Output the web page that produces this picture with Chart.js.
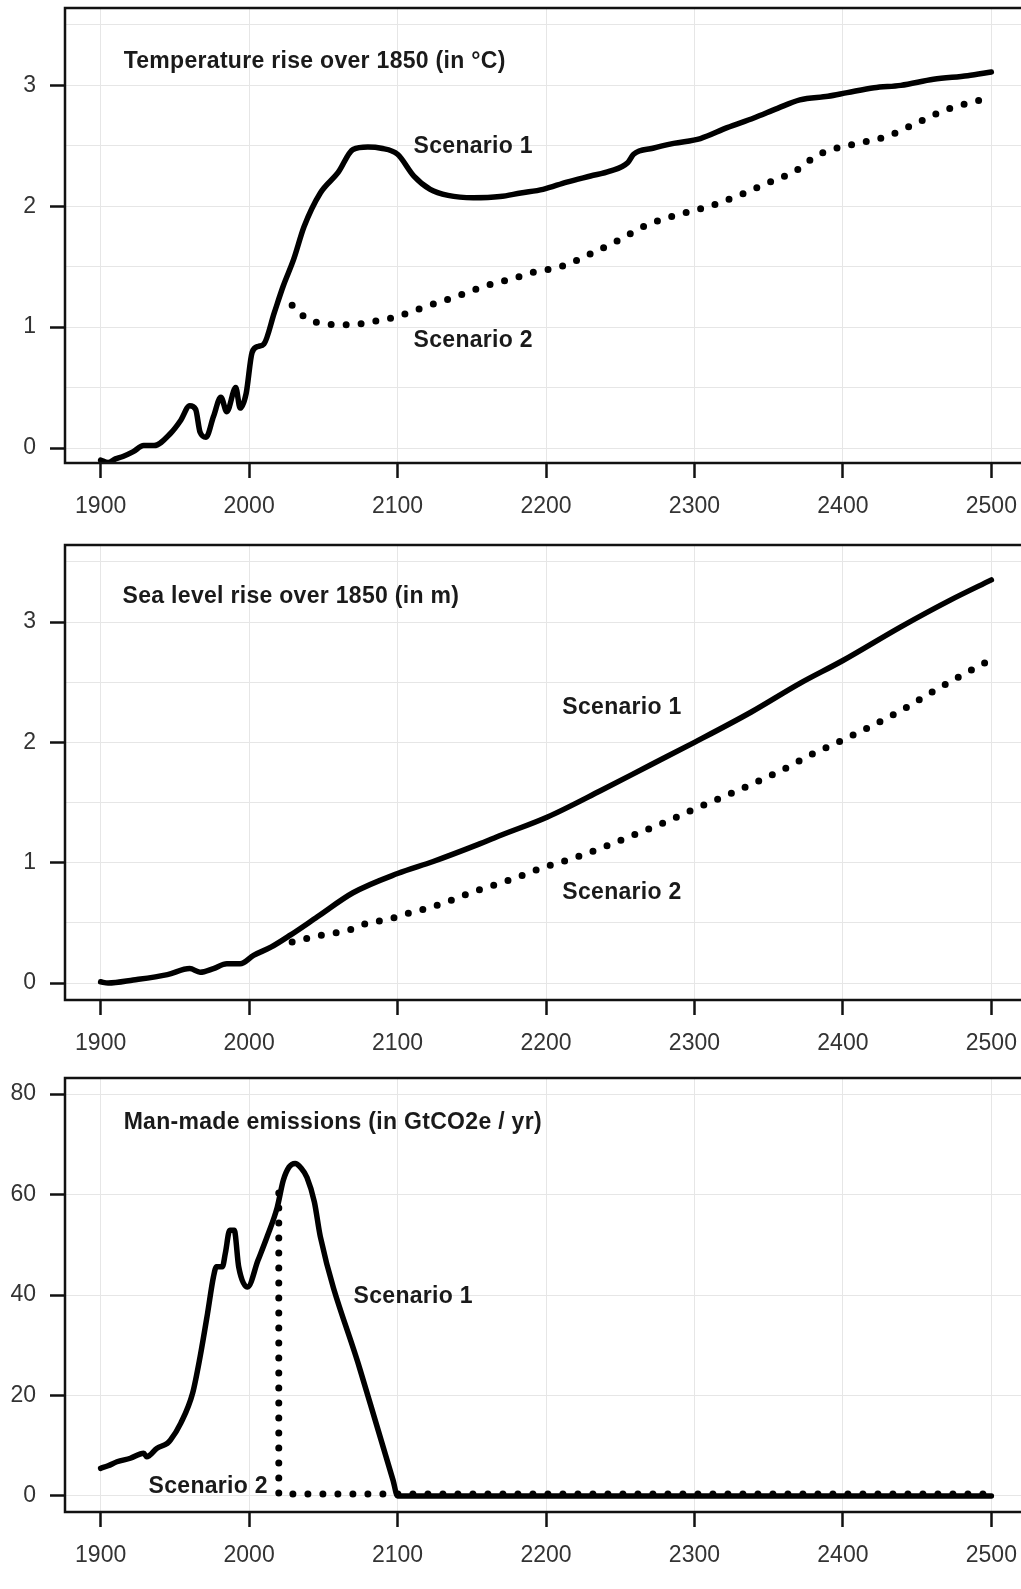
<!DOCTYPE html>
<html>
<head>
<meta charset="utf-8">
<title>Scenarios</title>
<script src="https://cdn.jsdelivr.net/npm/chart.js@4.4.0/dist/chart.umd.min.js"></script>
<style>
  html, body { margin: 0; padding: 0; background: #fff; overflow: hidden; width: 1021px; height: 1589px; }
  canvas { position: absolute; left: 0; }
</style>
</head>
<body>
<canvas id="tempChart" width="1040" height="530" style="top:0px"></canvas>
<canvas id="seaChart" width="1040" height="530" style="top:537px"></canvas>
<canvas id="emisChart" width="1040" height="509" style="top:1070px"></canvas>
<script>
// x axis shared by all three panels
const yearTicks = [1900, 2000, 2100, 2200, 2300, 2400, 2500];

// temperature rise over 1850 (°C)
const tempS1Years = [1900, 1905, 1910, 1915, 1922, 1929, 1936, 1947, 1954, 1960, 1964, 1967, 1971, 1976, 1981, 1985, 1991, 1994, 1998,
  2002, 2006, 2010, 2017, 2023, 2030, 2037, 2048, 2060, 2070, 2080, 2089, 2100, 2111, 2122, 2134, 2151, 2169, 2183, 2198,
  2214, 2230, 2243, 2255, 2259, 2272, 2286, 2304, 2322, 2340, 2356, 2371, 2390, 2403, 2421, 2439, 2461, 2484, 2500];
const tempS1 = [-0.10, -0.12, -0.09, -0.07, -0.03, 0.02, 0.02, 0.12, 0.23, 0.35, 0.32, 0.13, 0.09, 0.26, 0.42, 0.30, 0.50, 0.33, 0.45,
  0.79, 0.84, 0.86, 1.12, 1.34, 1.56, 1.83, 2.11, 2.28, 2.47, 2.49, 2.48, 2.43, 2.25, 2.14, 2.09, 2.07, 2.08, 2.11, 2.14,
  2.20, 2.25, 2.29, 2.36, 2.43, 2.48, 2.52, 2.56, 2.65, 2.73, 2.81, 2.88, 2.91, 2.94, 2.98, 3.00, 3.05, 3.08, 3.11];
const tempS2Years = [2029, 2039, 2050, 2060, 2070, 2080, 2090, 2100, 2119, 2139, 2159, 2180, 2190, 2210, 2229, 2249, 2269, 2289,
  2310, 2330, 2349, 2369, 2380, 2390, 2410, 2430, 2450, 2470, 2490, 2500];
const tempS2 = [1.18, 1.07, 1.03, 1.02, 1.02, 1.04, 1.06, 1.09, 1.17, 1.25, 1.34, 1.41, 1.45, 1.50, 1.60, 1.72, 1.85, 1.93,
  2.00, 2.09, 2.19, 2.30, 2.40, 2.46, 2.52, 2.58, 2.69, 2.80, 2.87, 2.90];
const tempGrid = [0, 0.5, 1, 1.5, 2, 2.5, 3, 3.5];
const tempLabels = [0, 1, 2, 3];

// sea level rise over 1850 (m)
const seaS1Years = [1900, 1905, 1922, 1945, 1960, 1967, 1976, 1985, 1994, 2003, 2015, 2028, 2046, 2070, 2100, 2124, 2154, 2170,
  2201, 2237, 2270, 2300, 2338, 2371, 2400, 2439, 2472, 2500];
const seaS1 = [0.01, 0.00, 0.025, 0.07, 0.12, 0.09, 0.12, 0.16, 0.16, 0.23, 0.30, 0.40, 0.55, 0.75, 0.91, 1.01, 1.15, 1.23,
  1.38, 1.60, 1.81, 2.00, 2.25, 2.49, 2.68, 2.96, 3.18, 3.35];
const seaS2Years = [2029, 2039, 2050, 2060, 2070, 2080, 2090, 2100, 2110, 2120, 2130, 2139, 2149, 2159, 2169, 2179, 2198, 2219,
  2239, 2259, 2279, 2299, 2320, 2340, 2359, 2379, 2400, 2420, 2440, 2459, 2479, 2500];
const seaS2 = [0.34, 0.37, 0.40, 0.42, 0.45, 0.50, 0.52, 0.55, 0.59, 0.62, 0.66, 0.70, 0.75, 0.79, 0.83, 0.87, 0.96, 1.04,
  1.13, 1.23, 1.33, 1.44, 1.55, 1.66, 1.77, 1.90, 2.02, 2.14, 2.27, 2.41, 2.55, 2.69];
const seaGrid = [0, 0.5, 1, 1.5, 2, 2.5, 3, 3.5];
const seaLabels = [0, 1, 2, 3];

// man-made emissions (GtCO2e / yr)
const emisS1Years = [1900, 1905, 1911, 1920, 1929, 1931, 1938, 1945, 1947, 1954, 1962, 1967, 1972, 1976, 1978, 1982, 1984, 1987,
  1990, 1993, 1999, 2006, 2012, 2019, 2023, 2027, 2031, 2035, 2039, 2044, 2048, 2075, 2097, 2100, 2500];
const emisS1 = [5.5, 6.0, 6.8, 7.5, 8.5, 7.8, 9.5, 10.5, 11.1, 14.5, 20.5, 27.7, 36.3, 43.6, 45.6, 45.6, 48.3, 52.9,
  52.9, 45.6, 41.6, 46.9, 51.5, 57.5, 62.8, 65.5, 66.2, 65.3, 63.4, 58.5, 51.6, 24.9, 3.1, 0, 0];
const emisS2Years = [2020, 2020, 2500];
const emisS2 = [60.3, 0.4, 0.4];
const emisGrid = [0, 20, 40, 60, 80];
const emisLabels = [0, 20, 40, 60, 80];

Chart.defaults.font.family = '"Liberation Sans", Arial, Helvetica, sans-serif';
Chart.defaults.color = '#333';

const toPoints = (xs, ys) => xs.map((x, i) => ({ x: x, y: ys[i] }));

// box round the plot area and the text notes inside it
const panelDecor = {
  id: 'panelDecor',
  afterDatasetsDraw(chart, args, opts) {
    const { ctx, chartArea: a, scales: { x, y } } = chart;
    ctx.save();
    ctx.font = 'bold 23px "Liberation Sans", Arial, sans-serif';
    ctx.letterSpacing = '0.3px';
    ctx.fillStyle = '#1a1a1a';
    ctx.textBaseline = 'middle';
    ctx.textAlign = 'left';
    (opts.notes || []).forEach(n => {
      ctx.fillText(n.text, x.getPixelForValue(n.x), y.getPixelForValue(n.y));
    });
    ctx.lineWidth = 2.5;
    ctx.strokeStyle = '#111';
    ctx.strokeRect(a.left, a.top, a.right - a.left, a.bottom - a.top);
    ctx.restore();
  }
};

// s2Smooth is false when scenario 2 has a vertical drop (same x twice)
function makePanel(id, s1, s2, s2Smooth, yMin, yMax, yGrid, yLabels, notes) {
  return new Chart(document.getElementById(id), {
    type: 'line',
    data: {
      datasets: [
        {
          label: 'Scenario 2',
          data: s2,
          borderColor: '#000',
          borderWidth: 7,
          borderDash: [0, 15],
          borderCapStyle: 'round',
          pointRadius: 0,
          tension: s2Smooth ? 0.4 : 0,
          cubicInterpolationMode: s2Smooth ? 'monotone' : 'default'
        },
        {
          label: 'Scenario 1',
          data: s1,
          borderColor: '#000',
          borderWidth: 5.5,
          borderJoinStyle: 'round',
          borderCapStyle: 'round',
          pointRadius: 0,
          tension: 0.4,
          cubicInterpolationMode: 'monotone'
        }
      ]
    },
    options: {
      responsive: false,
      animation: false,
      layout: { padding: { top: 8, left: 0, right: 13, bottom: 0 } },
      plugins: {
        legend: { display: false },
        tooltip: { enabled: false },
        panelDecor: { notes: notes }
      },
      scales: {
        x: {
          type: 'linear',
          min: 1876,
          max: 2524,
          afterBuildTicks: s => { s.ticks = yearTicks.map(v => ({ value: v })); },
          afterFit: s => { s.height = 67; s.paddingLeft = 0; s.paddingRight = 0; },
          border: { display: false },
          grid: { color: '#e6e6e6', lineWidth: 1, tickLength: 15, tickWidth: 2.5, tickColor: '#111' },
          ticks: { font: { size: 23 }, padding: 15, maxRotation: 0, autoSkip: false, callback: v => String(v) }
        },
        y: {
          type: 'linear',
          min: yMin,
          max: yMax,
          afterBuildTicks: s => { s.ticks = yGrid.map(v => ({ value: v })); },
          afterFit: s => { s.width = 65; s.paddingTop = 0; s.paddingBottom = 0; },
          border: { display: false },
          grid: {
            color: '#e6e6e6',
            lineWidth: 1,
            tickLength: 15,
            tickWidth: 2.5,
            tickColor: c => (c.tick && yLabels.includes(c.tick.value)) ? '#111' : 'rgba(0,0,0,0)'
          },
          ticks: {
            font: { size: 23 },
            padding: 14,
            autoSkip: false,
            callback: v => yLabels.includes(v) ? String(v) : ''
          }
        }
      }
    },
    plugins: [panelDecor]
  });
}

makePanel('tempChart', toPoints(tempS1Years, tempS1), toPoints(tempS2Years, tempS2), true,
  -0.124, 3.64, tempGrid, tempLabels, [
    { text: 'Temperature rise over 1850 (in °C)', x: 1915.5, y: 3.20 },
    { text: 'Scenario 1', x: 2110.8, y: 2.49 },
    { text: 'Scenario 2', x: 2110.8, y: 0.89 }
  ]);

makePanel('seaChart', toPoints(seaS1Years, seaS1), toPoints(seaS2Years, seaS2), true,
  -0.141, 3.64, seaGrid, seaLabels, [
    { text: 'Sea level rise over 1850 (in m)', x: 1914.8, y: 3.21 },
    { text: 'Scenario 1', x: 2211, y: 2.29 },
    { text: 'Scenario 2', x: 2211, y: 0.75 }
  ]);

makePanel('emisChart', toPoints(emisS1Years, emisS1), toPoints(emisS2Years, emisS2), false,
  -3.2, 83.2, emisGrid, emisLabels, [
    { text: 'Man-made emissions (in GtCO2e / yr)', x: 1915.5, y: 74.4 },
    { text: 'Scenario 1', x: 2070.4, y: 39.6 },
    { text: 'Scenario 2', x: 1932.3, y: 1.8 }
  ]);
</script>
</body>
</html>
